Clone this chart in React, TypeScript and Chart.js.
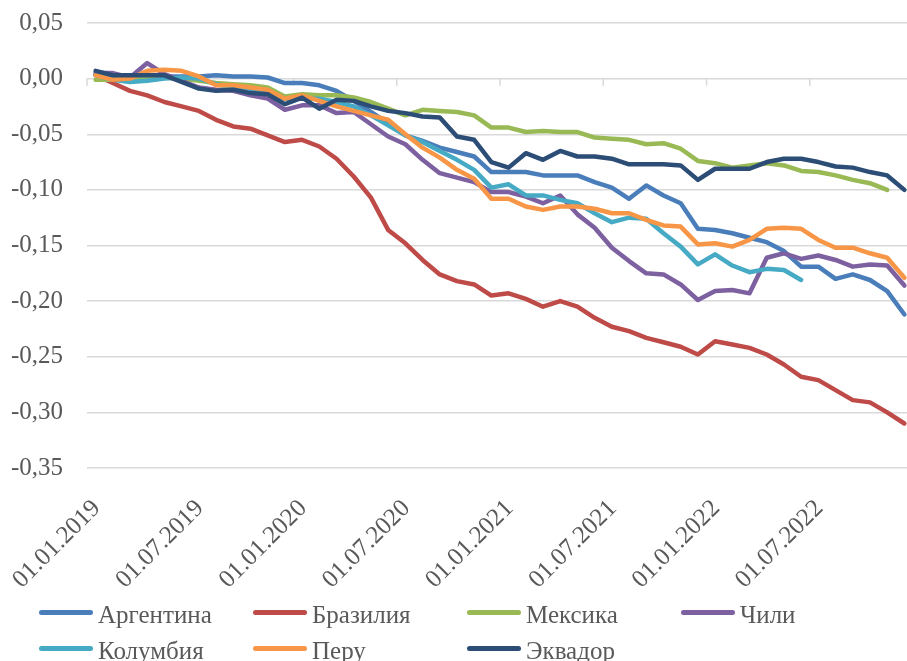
import React, { useEffect, useRef } from "react";
import { Chart, registerables } from "chart.js";

Chart.register(...registerables);

const MONTHS = [
  "01.01.2019", "01.02.2019", "01.03.2019", "01.04.2019", "01.05.2019", "01.06.2019",
  "01.07.2019", "01.08.2019", "01.09.2019", "01.10.2019", "01.11.2019", "01.12.2019",
  "01.01.2020", "01.02.2020", "01.03.2020", "01.04.2020", "01.05.2020", "01.06.2020",
  "01.07.2020", "01.08.2020", "01.09.2020", "01.10.2020", "01.11.2020", "01.12.2020",
  "01.01.2021", "01.02.2021", "01.03.2021", "01.04.2021", "01.05.2021", "01.06.2021",
  "01.07.2021", "01.08.2021", "01.09.2021", "01.10.2021", "01.11.2021", "01.12.2021",
  "01.01.2022", "01.02.2022", "01.03.2022", "01.04.2022", "01.05.2022", "01.06.2022",
  "01.07.2022", "01.08.2022", "01.09.2022", "01.10.2022", "01.11.2022", "01.12.2022",
];

const ARGENTINA = [
  0.004, 0.001, 0.0, 0.001, 0.002, 0.002, 0.002, 0.003, 0.002, 0.002,
  0.001, -0.004, -0.004, -0.006, -0.011, -0.02, -0.03, -0.04, -0.051, -0.056,
  -0.062, -0.066, -0.07, -0.084, -0.084, -0.084, -0.087, -0.087, -0.087, -0.093,
  -0.098, -0.108, -0.096, -0.105, -0.112, -0.135, -0.136, -0.139, -0.143, -0.147,
  -0.155, -0.169, -0.169, -0.18, -0.176, -0.181, -0.191, -0.212,
];
const BRAZIL = [
  0.003, -0.004, -0.011, -0.015, -0.021, -0.025, -0.029, -0.037, -0.043, -0.045,
  -0.051, -0.057, -0.055, -0.061, -0.072, -0.088, -0.107, -0.136, -0.148, -0.163,
  -0.176, -0.182, -0.185, -0.195, -0.193, -0.198, -0.205, -0.2, -0.205, -0.215,
  -0.223, -0.227, -0.233, -0.237, -0.241, -0.248, -0.236, -0.239, -0.242, -0.248,
  -0.257, -0.268, -0.271, -0.28, -0.289, -0.291, -0.3, -0.31,
];
const MEXICO = [
  -0.001, -0.001, 0.0, 0.001, 0.001, 0.0, -0.002, -0.004, -0.005, -0.006,
  -0.008, -0.016, -0.014, -0.015, -0.015, -0.017, -0.021, -0.027, -0.033, -0.028,
  -0.029, -0.03, -0.033, -0.044, -0.044, -0.048, -0.047, -0.048, -0.048, -0.053,
  -0.054, -0.055, -0.059, -0.058, -0.063, -0.074, -0.076, -0.08, -0.078, -0.076,
  -0.078, -0.083, -0.084, -0.087, -0.091, -0.094, -0.1, null,
];
const CHILE = [
  0.005, 0.005, 0.001, 0.014, 0.004, -0.002, -0.008, -0.01, -0.011, -0.015,
  -0.018, -0.028, -0.024, -0.024, -0.031, -0.03, -0.041, -0.052, -0.059, -0.073,
  -0.085, -0.089, -0.093, -0.102, -0.102, -0.106, -0.112, -0.105, -0.122, -0.134,
  -0.152, -0.164, -0.175, -0.176, -0.185, -0.199, -0.191, -0.19, -0.193, -0.161,
  -0.157, -0.162, -0.159, -0.163, -0.169, -0.167, -0.168, -0.186,
];
const COLOMBIA = [
  0.003, -0.001, -0.003, -0.002, 0.0, 0.001, 0.0, -0.005, -0.008, -0.009,
  -0.012, -0.018, -0.018, -0.018, -0.021, -0.025, -0.033, -0.042, -0.051, -0.057,
  -0.065, -0.073, -0.082, -0.098, -0.095, -0.105, -0.105, -0.109, -0.112, -0.121,
  -0.129, -0.125, -0.126, -0.139, -0.151, -0.167, -0.158, -0.168, -0.174, -0.171,
  -0.172, -0.181, null, null, null, null, null, null,
];
const PERU = [
  0.003, -0.001, 0.0, 0.007, 0.008, 0.007, 0.002, -0.006, -0.006, -0.008,
  -0.01, -0.018, -0.015, -0.02, -0.025, -0.029, -0.033, -0.037, -0.05, -0.062,
  -0.071, -0.082, -0.09, -0.108, -0.108, -0.115, -0.118, -0.115, -0.115, -0.117,
  -0.121, -0.121, -0.127, -0.132, -0.133, -0.149, -0.148, -0.151, -0.145, -0.135,
  -0.134, -0.135, -0.145, -0.152, -0.152, -0.157, -0.161, -0.179,
];
const ECUADOR = [
  0.007, 0.003, 0.003, 0.003, 0.003, -0.003, -0.009, -0.011, -0.01, -0.013,
  -0.014, -0.023, -0.017, -0.027, -0.019, -0.02, -0.025, -0.029, -0.031, -0.034,
  -0.035, -0.052, -0.055, -0.075, -0.08, -0.067, -0.073, -0.065, -0.07, -0.07,
  -0.072, -0.077, -0.077, -0.077, -0.078, -0.091, -0.081, -0.081, -0.081, -0.075,
  -0.072, -0.072, -0.075, -0.079, -0.08, -0.084, -0.087, -0.1,
];

const SERIES_NAMES = ["Аргентина", "Бразилия", "Мексика", "Чили", "Колумбия", "Перу", "Эквадор"];
const SERIES_VALUES = [ARGENTINA, BRAZIL, MEXICO, CHILE, COLOMBIA, PERU, ECUADOR];
const SERIES_COLORS = ["#4A7EBB", "#BE4B48", "#98B954", "#7D60A0", "#46AAC5", "#F79646", "#2C4D75"];

const Y_MIN = -0.35;
const Y_MAX = 0.05;
const Y_STEP = 0.05;
const LABEL_EVERY = 6;

const FONT = "'Liberation Serif', 'Times New Roman', serif";
const TEXT = "#595959";
const GRID = "#d9d9d9";

const axisTickMarks = {
  id: "axisTickMarks",
  beforeDatasetsDraw(chart: any) {
    const xs = chart.scales.x;
    const ys = chart.scales.y;
    const ctx = chart.ctx;
    const y0 = ys.getPixelForValue(0);
    const half = (xs.getPixelForValue(1) - xs.getPixelForValue(0)) / 2;
    ctx.save();
    ctx.strokeStyle = GRID;
    ctx.lineWidth = 1.5;
    for (let i = 0; i <= MONTHS.length; i += LABEL_EVERY) {
      const px = xs.getPixelForValue(i) - half;
      ctx.beginPath();
      ctx.moveTo(px, y0);
      ctx.lineTo(px, y0 + 7);
      ctx.stroke();
    }
    ctx.restore();
  },
};

export default function App() {
  const ref = useRef<HTMLCanvasElement | null>(null);

  useEffect(() => {
    document.body.style.margin = "0";
    document.body.style.overflow = "hidden";
    const canvas = ref.current;
    if (!canvas) return;
    const chart = new Chart(canvas, {
      type: "line",
      data: {
        labels: MONTHS,
        datasets: SERIES_NAMES.map((name, i) => ({
          label: name,
          data: SERIES_VALUES[i],
          borderColor: SERIES_COLORS[i],
          backgroundColor: SERIES_COLORS[i],
          borderWidth: 4.5,
          pointRadius: 0,
          tension: 0,
          fill: false,
          spanGaps: false,
          borderJoinStyle: "round" as const,
          borderCapStyle: "round" as const,
          order: SERIES_NAMES.length - i,
        })),
      },
      options: {
        responsive: false,
        animation: false,
        devicePixelRatio: 1,
        layout: { padding: { top: 23, right: 0, bottom: 0, left: 0 } },
        plugins: {
          legend: { display: false },
          tooltip: { enabled: false },
        },
        scales: {
          x: {
            type: "category",
            offset: true,
            grid: { display: false },
            border: { display: false },
            afterFit: (scale: any) => {
              scale.height = 193;
              scale.paddingLeft = 0;
              scale.paddingRight = 0;
            },
            ticks: {
              autoSkip: false,
              maxRotation: 45,
              minRotation: 45,
              padding: 18,
              labelOffset: 1,
              color: TEXT,
              font: { family: FONT, size: 25 },
              callback: function (this: any, value: any, index: number) {
                return index % LABEL_EVERY === 0 ? this.getLabelForValue(value) : null;
              },
            },
          },
          y: {
            min: Y_MIN,
            max: Y_MAX,
            grid: { color: GRID, lineWidth: 1.5, drawTicks: false },
            border: { display: false },
            afterFit: (scale: any) => {
              scale.width = 87;
              scale.paddingTop = 0;
              scale.paddingBottom = 0;
            },
            ticks: {
              stepSize: Y_STEP,
              padding: 24,
              color: TEXT,
              font: { family: FONT, size: 25 },
              callback: (v: any) => {
                const n = Math.abs(Number(v)) < 1e-9 ? 0 : Number(v);
                return n.toFixed(2).replace(".", ",");
              },
            },
          },
        },
      },
      plugins: [axisTickMarks],
    });
    return () => chart.destroy();
  }, []);

  const rows = [SERIES_NAMES.slice(0, 4), SERIES_NAMES.slice(4)];

  return (
    <div style={{ position: "relative", width: 907, height: 661, overflow: "hidden", background: "#fff" }}>
      <canvas ref={ref} width={913} height={661} style={{ position: "absolute", left: 0, top: 0 }} />
      <div style={{ position: "absolute", left: 39, top: 594, fontFamily: FONT, fontSize: 25, color: TEXT }}>
        {rows.map((row, r) => (
          <div key={r} style={{ display: "flex", height: 36.5 }}>
            {row.map((name) => {
              const idx = SERIES_NAMES.indexOf(name);
              return (
                <div key={name} style={{ width: 214, display: "flex", alignItems: "center" }}>
                  <span
                    style={{
                      display: "inline-block",
                      width: 54,
                      height: 5,
                      borderRadius: 3,
                      background: SERIES_COLORS[idx],
                      marginRight: 5,
                    }}
                  />
                  <span style={{ lineHeight: 1, position: "relative", top: 2 }}>{name}</span>
                </div>
              );
            })}
          </div>
        ))}
      </div>
    </div>
  );
}
